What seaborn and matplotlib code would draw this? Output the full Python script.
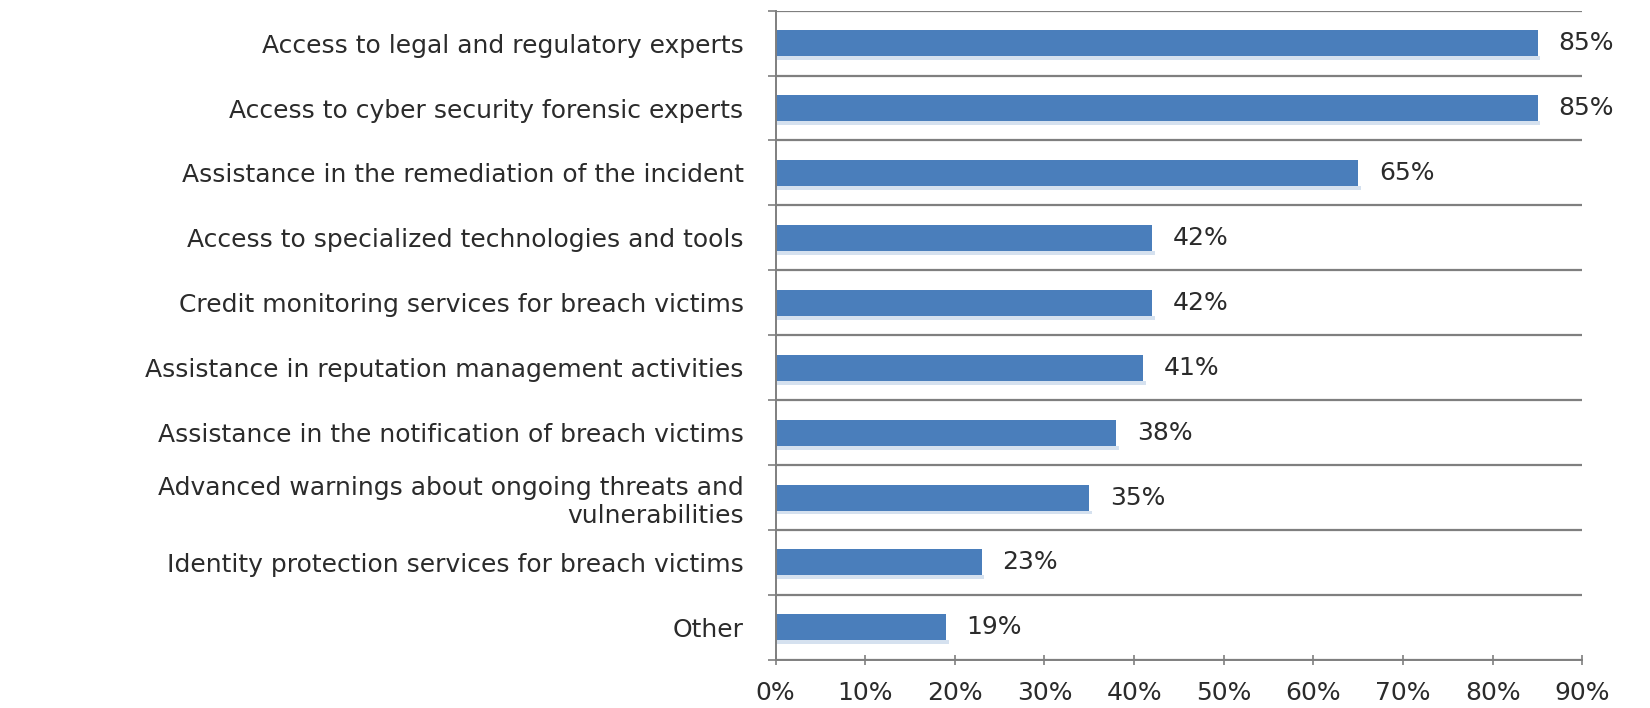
import matplotlib
matplotlib.use("Agg")
import matplotlib.pyplot as plt
import seaborn as sns
import pandas as pd
from matplotlib.ticker import FixedLocator, PercentFormatter

categories = [
    "Access to legal and regulatory experts",
    "Access to cyber security forensic experts",
    "Assistance in the remediation of the incident",
    "Access to specialized technologies and tools",
    "Credit monitoring services for breach victims",
    "Assistance in reputation management activities",
    "Assistance in the notification of breach victims",
    "Advanced warnings about ongoing threats and\nvulnerabilities",
    "Identity protection services for breach victims",
    "Other",
]
values = [85, 85, 65, 42, 42, 41, 38, 35, 23, 19]
xticks = [0, 10, 20, 30, 40, 50, 60, 70, 80, 90]

df = pd.DataFrame({"category": categories, "value": values})

sns.set_theme(style="white")
plt.rcParams["font.family"] = ["DejaVu Sans"]

fig = plt.figure(figsize=(16.5, 7.08), dpi=100)
ax = fig.add_axes([0.47, 0.068, 0.489, 0.917])

bar_color = "#4a7ebb"
sns.barplot(data=df, y="category", x="value", orient="h", color=bar_color,
            width=0.4, saturation=1, ax=ax, linewidth=0)

# subtle shadow under each bar
for p in ax.patches:
    x, y = p.get_x(), p.get_y()
    w, h = p.get_width(), p.get_height()
    ax.add_patch(plt.Rectangle((x, y + h), w + 0.3, 0.06, color="#d5e1ef",
                               zorder=p.get_zorder() - 0.1, lw=0))

ax.set_xlim(0, 90)
ax.set_ylim(len(categories) - 0.5, -0.5)
ax.set_xticks(xticks)
ax.xaxis.set_major_formatter(PercentFormatter(decimals=0))
ax.set_xlabel("")
ax.set_ylabel("")

# category boundaries as gridlines
ax.yaxis.set_minor_locator(FixedLocator([i - 0.5 for i in range(len(categories) + 1)]))
ax.grid(which="minor", axis="y", color="#7f7f7f", linewidth=1.6)
ax.grid(which="major", visible=False)
ax.set_axisbelow(True)

for s in ["top", "right"]:
    ax.spines[s].set_visible(False)
for s in ["left", "bottom"]:
    ax.spines[s].set_color("#7f7f7f")
    ax.spines[s].set_linewidth(1.4)

fs = 18
ax.tick_params(axis="y", which="major", length=0, pad=23, labelsize=fs,
               labelcolor="#2b2b2b")
ax.tick_params(axis="y", which="minor", length=6, width=1.2, color="#7f7f7f", left=True)
ax.tick_params(axis="x", which="major", length=7, width=1.2, color="#7f7f7f",
               bottom=True, direction="inout", labelsize=fs, labelcolor="#2b2b2b", pad=12)

for i, v in enumerate(values):
    ax.text(v + 2.3, i, f"{v}%", va="center", ha="left", fontsize=fs, color="#2b2b2b")

fig.savefig("out.png", dpi=100, facecolor="white")
